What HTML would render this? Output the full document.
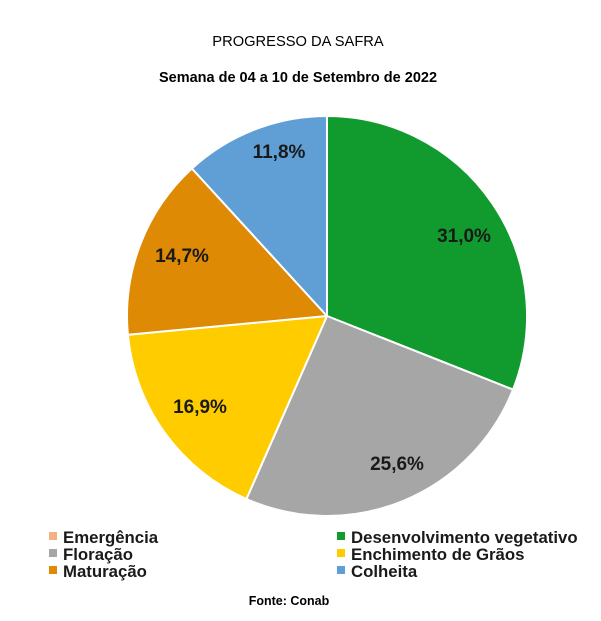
<!DOCTYPE html>
<html><head><meta charset="utf-8"><style>
body{margin:0;background:#fff;}
</style></head><body>
<svg width="601" height="616" xmlns="http://www.w3.org/2000/svg" font-family="Liberation Sans, Arial, sans-serif">
<rect width="601" height="616" fill="#fff"/>
<text x="298" y="46" text-anchor="middle" font-size="14.7">PROGRESSO DA SAFRA</text>
<text x="298" y="82" text-anchor="middle" font-size="14.5" font-weight="bold">Semana de 04 a 10 de Setembro de 2022</text>
<g stroke="#fff" stroke-width="2" stroke-linejoin="round">
<path d="M327,316 L327,116 A200,200 0 0 1 513,389.6 Z" fill="#119a2e"/>
<path d="M327,316 L513,389.6 A200,200 0 0 1 246.4,499 Z" fill="#a6a6a6"/>
<path d="M327,316 L246.4,499 A200,200 0 0 1 127.9,334.8 Z" fill="#ffcc00"/>
<path d="M327,316 L127.9,334.8 A200,200 0 0 1 191.9,168.5 Z" fill="#de8a05"/>
<path d="M327,316 L191.9,168.5 A200,200 0 0 1 327,116 Z" fill="#5f9fd6"/>
</g>
<g font-size="19" font-weight="bold" fill="#1a1a1a" text-anchor="middle">
<text x="464" y="242">31,0%</text>
<text x="397" y="470">25,6%</text>
<text x="200" y="413">16,9%</text>
<text x="182" y="262">14,7%</text>
<text x="279" y="158">11,8%</text>
</g>
<g font-size="16.8" font-weight="bold" fill="#1a1a1a">
<rect x="49" y="532" width="8" height="8" fill="#f4b183"/><text x="63" y="543">Emergência</text>
<rect x="49" y="549" width="8" height="8" fill="#a6a6a6"/><text x="63" y="560">Floração</text>
<rect x="49" y="566" width="8" height="8" fill="#de8a05"/><text x="63" y="577">Maturação</text>
<rect x="337" y="532" width="8" height="8" fill="#119a2e"/><text x="351" y="543">Desenvolvimento vegetativo</text>
<rect x="337" y="549" width="8" height="8" fill="#ffcc00"/><text x="351" y="560">Enchimento de Grãos</text>
<rect x="337" y="566" width="8" height="8" fill="#5f9fd6"/><text x="351" y="577">Colheita</text>
</g>
<text x="289" y="605" text-anchor="middle" font-size="12.5" font-weight="bold">Fonte: Conab</text>
</svg>
</body></html>
